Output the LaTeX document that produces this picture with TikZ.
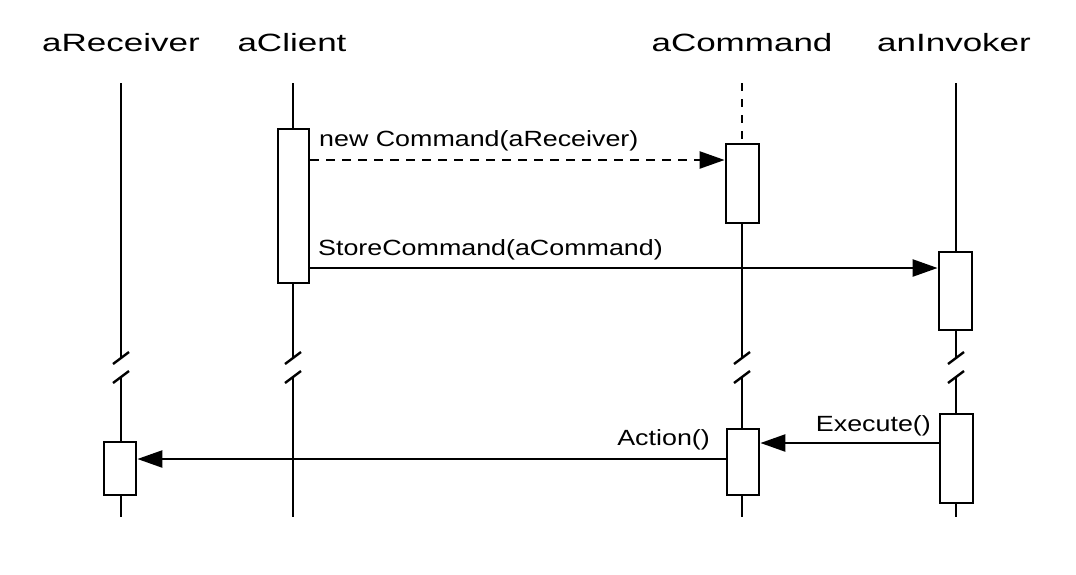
\documentclass[tikz,border=0pt]{standalone}
\usepackage{fontspec}
\usepackage{graphicx}
\setmainfont{Liberation Sans}
\usetikzlibrary{arrows.meta}
\tikzset{
  life/.style={line width=2.4pt},
  actbox/.style={draw, line width=2.8pt, fill=white, rectangle, inner sep=0pt},
  msg/.style={line width=2.4pt, -{Triangle[length=25pt,width=17pt]}},
  msgdash/.style={msg, dash pattern=on 9pt off 7pt},
  brk/.style={line width=2.4pt},
  title/.style={inner sep=0pt, anchor=base, font=\fontsize{25}{30}\selectfont},
  lbl/.style={inner sep=0pt, font=\fontsize{22}{26}\selectfont}
}
\newcommand{\wt}[1]{\scalebox{1.4}[1]{#1}}
\newcommand{\ws}[1]{\scalebox{1.22}[1]{#1}}
\begin{document}
\begin{tikzpicture}[x=1pt,y=-1pt]
\useasboundingbox (0,0) rectangle (1076,574);
% titles
\node[title] (tR) at (121,51) {\wt{aReceiver}};
\node[title] (tC) at (292,51) {\wt{aClient}};
\node[title] (tM) at (742,51) {\wt{aCommand}};
\node[title] (tI) at (954,51) {\wt{anInvoker}};
% lifeline coordinates
\coordinate (rT) at (121,83);  \coordinate (rA) at (121,358); \coordinate (rB) at (121,377); \coordinate (rE) at (121,517);
\coordinate (cT) at (293,83);  \coordinate (cA) at (293,358); \coordinate (cB) at (293,377); \coordinate (cE) at (293,517);
\coordinate (mT) at (742,83);  \coordinate (mA) at (742,358); \coordinate (mB) at (742,377); \coordinate (mE) at (742,517);
\coordinate (iT) at (956,83);  \coordinate (iA) at (956,358); \coordinate (iB) at (956,377); \coordinate (iE) at (956,517);
% activation boxes
\node[actbox, minimum width=31pt, minimum height=154pt] (cbox) at (293.5,206) {};
\node[actbox, minimum width=33pt, minimum height=79pt] (cmd1) at (742.5,183.5) {};
\node[actbox, minimum width=33pt, minimum height=78pt] (inv1) at (955.5,291) {};
\node[actbox, minimum width=32pt, minimum height=53pt] (rcv) at (120,468.5) {};
\node[actbox, minimum width=32pt, minimum height=66pt] (cmd2) at (743,462) {};
\node[actbox, minimum width=33pt, minimum height=89pt] (inv2) at (956.5,458.5) {};
% lifelines
\draw[life] (rT) -- (rA);
\draw[life] (rB) -- (rcv.north -| rB);
\draw[life] (rcv.south -| rB) -- (rE);
\draw[life] (cT) -- (cbox.north -| cT);
\draw[life] (cbox.south -| cT) -- (cA);
\draw[life] (cB) -- (cE);
\draw[life, dash pattern=on 8pt off 8pt] (mT) -- (cmd1.north -| mT);
\draw[life] (cmd1.south -| mT) -- (mA);
\draw[life] (mB) -- (cmd2.north -| mB);
\draw[life] (cmd2.south -| mB) -- (mE);
\draw[life] (iT) -- (inv1.north -| iT);
\draw[life] (inv1.south -| iT) -- (iA);
\draw[life] (iB) -- (inv2.north -| iB);
\draw[life] (inv2.south -| iB) -- (iE);
% break marks
\foreach \p in {rA,cA,mA,iA,rB,cB,mB,iB}{
  \draw[brk] ([shift={(-8,6)}]\p) -- ([shift={(8,-6)}]\p);
}
% messages
\draw[msgdash] (cbox.east |- 0,160) -- (cmd1.west |- 0,160);
\draw[msg] (cbox.east |- 0,268) -- (inv1.west |- 0,268);
\draw[msg] (inv2.west |- 0,443) -- (cmd2.east |- 0,443);
\draw[msg] (cmd2.west |- 0,459) -- (rcv.east |- 0,459);
% labels
\node[lbl, anchor=base west] (l1) at (319,146) {\ws{new Command(aReceiver)}};
\node[lbl, anchor=base west] (l2) at (318,255) {\ws{StoreCommand(aCommand)}};
\node[lbl, anchor=base east] (l3) at (710,445) {\ws{Action()}};
\node[lbl, anchor=base east] (l4) at (931,431) {\ws{Execute()}};
\end{tikzpicture}
\end{document}
